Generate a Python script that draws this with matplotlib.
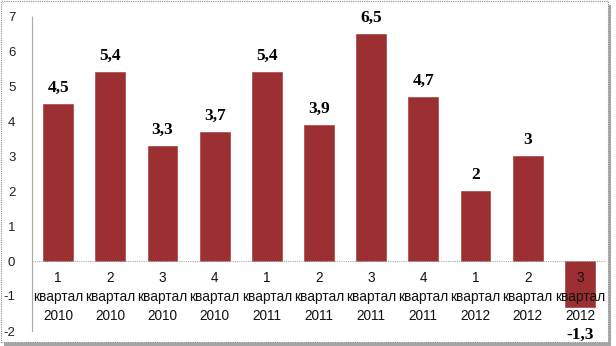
import numpy as np
import matplotlib
matplotlib.use('Agg')
import matplotlib.pyplot as plt
from matplotlib.patches import Rectangle

quarters = ['1', '2', '3', '4', '1', '2', '3', '4', '1', '2', '3']
years = ['2010'] * 4 + ['2011'] * 4 + ['2012'] * 3
values = [4.5, 5.4, 3.3, 3.7, 5.4, 3.9, 6.5, 4.7, 2.0, 3.0, -1.3]
value_labels = ['4,5', '5,4', '3,3', '3,7', '5,4', '3,9', '6,5', '4,7', '2', '3', '-1,3']

fig = plt.figure(figsize=(6.16, 3.46), dpi=100)
ax = fig.add_axes([32 / 616, 15 / 346, 574 / 616, 315 / 346])

x = np.arange(len(values))
ax.bar(x, values, width=0.57, color='#9b2f31', edgecolor='#a84446', linewidth=0.5, zorder=2)

ax.set_xlim(-0.5, len(values) - 0.5)
ax.set_ylim(-2, 7)
ax.set_yticks(range(-2, 8))
ax.set_yticklabels([str(v) for v in range(-2, 8)], fontsize=9.5, family='Liberation Sans', color='#222222')
ax.tick_params(axis='y', length=0, pad=12)
ax.set_xticks([])

for s in ['top', 'right', 'bottom']:
    ax.spines[s].set_visible(False)
ax.spines['left'].set_color('#aaaaaa')
ax.spines['left'].set_linestyle((0, (1, 1)))
ax.spines['left'].set_linewidth(0.8)
ax.axhline(0, color='#aaaaaa', linestyle=(0, (1, 1)), linewidth=0.8, zorder=3)

for xi, (q, yr) in enumerate(zip(quarters, years)):
    ax.text(xi, -0.3, '{}\nквартал\n{}'.format(q, yr), ha='center', va='top',
            fontsize=9.8, family='Liberation Sans', color='#111111', linespacing=1.45, zorder=4)

for xi, (v, lab) in enumerate(zip(values, value_labels)):
    if v >= 0:
        ax.text(xi, v + 0.22, lab, ha='center', va='bottom', fontsize=12.5,
                fontweight='bold', family='Liberation Serif', color='black')
    else:
        ax.text(xi, -2.1, lab, ha='center', va='center', fontsize=12.5, clip_on=False,
                fontweight='bold', family='Liberation Serif', color='black')

# frame with shadow
fig.patches.append(Rectangle((4 / 616, 0 / 346), 607 / 616, 341 / 346, transform=fig.transFigure,
                             facecolor='#a5a5a5', edgecolor='none', zorder=-2))
fig.patches.append(Rectangle((1 / 616, 4 / 346), 607 / 616, 341 / 346, transform=fig.transFigure,
                             facecolor='white', edgecolor='#888888', linestyle=(0, (1, 1)),
                             linewidth=0.8, zorder=-1))
ax.patch.set_alpha(0)

fig.savefig('out.png', dpi=100)
